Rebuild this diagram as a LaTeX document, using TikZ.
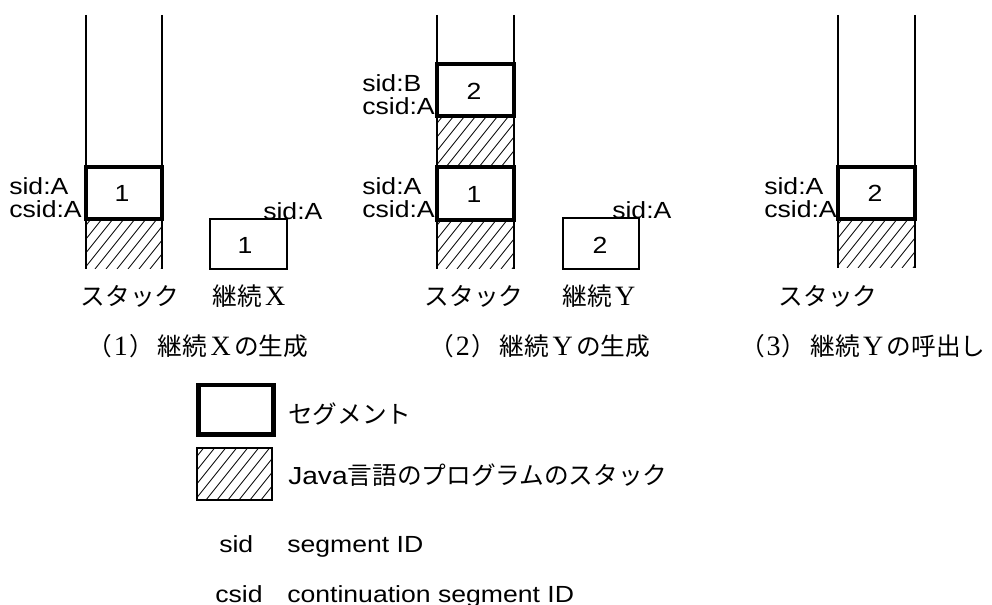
\documentclass[tikz,border=0pt]{standalone}
\usepackage{fontspec}
\setmainfont{Liberation Serif}
\newfontfamily\jp{Noto Sans CJK JP}
\newfontfamily\lat[FakeStretch=1.14]{Liberation Sans}
% hatched area between two x and two y values (y grows downward)
\newcommand\hatchbox[4]{%
  \begin{scope}
    \clip (#1,#2) rectangle (#3,#4);
    \foreach \k in {-90,-79,...,90}
      \draw[hatch] (#1+\k,#4) -- ++(64,-80);
  \end{scope}}
% serif roman letter inside Japanese text
\newcommand\romlet[1]{\hspace{2.5pt}{\fontsize{21}{22}\selectfont #1}\hspace{2.5pt}}
% caption "(n) ..." with a serif numeral
\newcommand\capnum[1]{{\jp （}\hspace{1pt}{\fontsize{21}{22}\selectfont #1}\hspace{1pt}{\jp ）}\hspace{3pt}}
\begin{document}
\begin{tikzpicture}[x=0.75pt,y=-0.75pt,
  lbl/.style={font=\lat\fontsize{17.5}{20}\selectfont, inner sep=0},
  jtxt/.style={font=\jp\fontsize{18.5}{21}\selectfont, inner sep=0},
  captxt/.style={font=\fontsize{18.5}{21}\selectfont, inner sep=0},
  segbox/.style={draw, line width=3pt},
  legbox/.style={draw, line width=3.6pt},
  thinline/.style={line width=1.1pt},
  hatch/.style={line width=0.6pt}]
\useasboundingbox (0,0) rectangle (992,605);

% ---------- (1) ----------
\hatchbox{86}{219}{162}{269}
\draw[thinline] (86,15) -- (86,269) (162,15) -- (162,269);
\draw[segbox] (86,167) rectangle (162,219);
\node[lbl] (s1n) at (122,193) {1};
\node[lbl, anchor=base west] (s1sid) at (9,195) {sid:A};
\node[lbl, anchor=base west] (s1csid) at (9,218) {csid:A};
\draw[thinline] (210,219) rectangle (287,269);
\node[lbl] (x1n) at (245,245) {1};
\node[lbl, anchor=base west] (x1sid) at (263,219.5) {sid:A};
\node[jtxt] (st1) at (130,296) {スタック};
\node[captxt] (cx) at (249,296) {{\jp 継続}\romlet{X}};
\node[captxt] (c1) at (198,346) {\capnum{1}{\jp 継続}\romlet{X}{\jp の生成}};

% ---------- (2) ----------
\hatchbox{437}{116}{514}{167}
\hatchbox{437}{220}{514}{269}
\draw[thinline] (437,15) -- (437,269) (514,15) -- (514,269);
\draw[segbox] (437,64) rectangle (514,116);
\draw[segbox] (437,167) rectangle (514,220);
\node[lbl] (s2b) at (474,91) {2};
\node[lbl] (s2a) at (474,194) {1};
\node[lbl, anchor=base west] (s2sidb) at (362,92) {sid:B};
\node[lbl, anchor=base west] (s2csidb) at (362,115) {csid:A};
\node[lbl, anchor=base west] (s2sida) at (362,195) {sid:A};
\node[lbl, anchor=base west] (s2csida) at (362,218) {csid:A};
\draw[thinline] (563,218) rectangle (639,269);
\node[lbl] (y2n) at (600,245) {2};
\node[lbl, anchor=base west] (y2sid) at (612,218.5) {sid:A};
\node[jtxt] (st2) at (474,296) {スタック};
\node[captxt] (cy) at (599,296) {{\jp 継続}\romlet{Y}};
\node[captxt] (c2) at (540,346) {\capnum{2}{\jp 継続}\romlet{Y}{\jp の生成}};

% ---------- (3) ----------
\hatchbox{838}{219}{915}{268}
\draw[thinline] (838,15) -- (838,268) (915,15) -- (915,268);
\draw[segbox] (838,167) rectangle (915,219);
\node[lbl] (s3n) at (875,193) {2};
\node[lbl, anchor=base west] (s3sid) at (764,195) {sid:A};
\node[lbl, anchor=base west] (s3csid) at (764,218) {csid:A};
\node[jtxt] (st3) at (828,296) {スタック};
\node[captxt] (c3) at (863,346) {\capnum{3}{\jp 継続}\romlet{Y}{\jp の呼出し}};

% ---------- legend ----------
\draw[legbox] (198.5,385) rectangle (273.5,434.5);
\node[jtxt, anchor=west] (lg1) at (288,414) {セグメント};
\hatchbox{197}{448}{272}{500}
\draw[thinline] (197,448) rectangle (272,500);
\node[jtxt, anchor=west] (lg2) at (288,475) {{\lat Java}言語のプログラムのスタック};
\node[lbl, anchor=base west] (lg3a) at (219,552) {sid};
\node[lbl, anchor=base west] (lg3b) at (287,552) {segment ID};
\node[lbl, anchor=base west] (lg4a) at (215,602) {csid};
\node[lbl, anchor=base west] (lg4b) at (287,602) {continuation segment ID};
\end{tikzpicture}
\end{document}
